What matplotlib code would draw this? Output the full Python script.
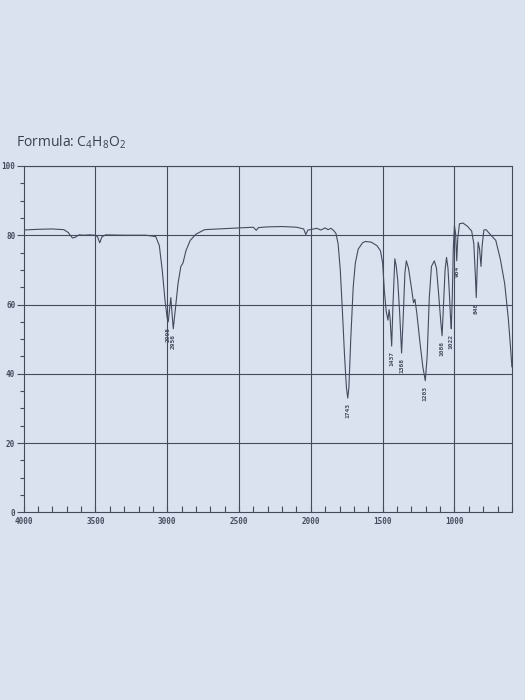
import matplotlib
matplotlib.use("Agg")
import matplotlib.pyplot as plt

plt.rcParams['mathtext.fontset'] = 'custom'
plt.rcParams['mathtext.rm'] = 'Open Sans'
plt.rcParams['mathtext.it'] = 'Open Sans'

# IR spectrum (wavenumber cm-1, %T)
wavenumber = [4000, 3900, 3800, 3720, 3690, 3660, 3640, 3615, 3580, 3540, 3500, 3485,
              3470, 3455, 3430, 3300, 3150, 3080, 3055, 3035, 3015, 3000, 2993, 2975,
              2958, 2945, 2925, 2905, 2890, 2870, 2840, 2800, 2740, 2650, 2550, 2400,
              2380, 2365, 2300, 2200, 2100, 2050, 2035, 2020, 2000, 1960, 1930, 1900,
              1880, 1860, 1840, 1825, 1810, 1795, 1780, 1765, 1752, 1743, 1735, 1722,
              1705, 1690, 1670, 1640, 1620, 1580, 1540, 1515, 1500, 1488, 1475, 1463,
              1455, 1448, 1437, 1428, 1415, 1405, 1395, 1382, 1368, 1358, 1345, 1335,
              1320, 1300, 1285, 1275, 1262, 1240, 1220, 1203, 1190, 1175, 1160, 1140,
              1125, 1110, 1095, 1086, 1078, 1065, 1055, 1045, 1035, 1027, 1022, 1015,
              1008, 1000, 992, 984, 977, 965, 940, 910, 880, 865, 855, 848, 842, 835,
              825, 815, 807, 795, 780, 750, 712, 680, 650, 625, 610, 600]
transmittance = [81.5, 81.7, 81.8, 81.6, 80.8, 79.2, 79.4, 80.1, 80.0, 80.1, 80.0, 79.5,
                 77.8, 79.5, 80.1, 80.0, 80.0, 79.6, 77.0, 70.0, 61.0, 56.0, 55.0, 62.0,
                 53.0, 58.0, 66.0, 71.0, 72.0, 75.5, 78.5, 80.3, 81.6, 81.8, 82.0, 82.3,
                 81.4, 82.2, 82.4, 82.5, 82.3, 81.8, 80.2, 81.5, 81.6, 82.0, 81.5, 82.1,
                 81.6, 82.0, 81.3, 80.5, 77.5, 70.0, 58.0, 45.0, 36.0, 33.0, 36.0, 50.0,
                 65.0, 72.0, 76.0, 77.8, 78.2, 78.0, 77.0, 75.5, 72.0, 64.0, 58.0, 55.5,
                 58.5, 56.0, 48.0, 60.0, 73.2, 71.0, 67.0, 58.0, 46.0, 55.0, 69.0, 72.6,
                 70.5, 65.0, 60.5, 61.5, 57.5, 49.0, 42.0, 38.0, 45.0, 62.0, 71.0, 72.6,
                 70.5, 63.0, 55.0, 51.0, 58.0, 70.0, 73.6, 70.5, 63.0, 56.0, 53.0, 62.0,
                 76.0, 82.8, 80.5, 72.6, 79.0, 83.3, 83.5, 82.6, 81.2, 77.5, 69.0, 62.0,
                 70.0, 78.0, 76.0, 71.0, 77.0, 81.5, 81.6, 80.2, 78.5, 73.0, 66.0, 56.0,
                 48.0, 42.0]

peak_labels = ["2995", "2956", "1743", "1437", "1368", "1203", "1086", "1022", "984", "848"]
peak_positions = [2993, 2958, 1743, 1437, 1368, 1203, 1086, 1022, 984, 848]
peak_values = [55.0, 53.0, 33.0, 48.0, 46.0, 38.0, 51.0, 53.0, 72.6, 62.0]

x_major = [4000, 3500, 3000, 2500, 2000, 1500, 1000]
y_major = [0, 20, 40, 60, 80, 100]

bg = "#dae2f0"
ink = "#454b5c"

fig = plt.figure(figsize=(5.25, 7.0), dpi=100, facecolor=bg)
ax = fig.add_axes([0.045, 0.268, 0.93, 0.495], facecolor=bg)

ax.plot(wavenumber, transmittance, color=ink, lw=0.8)

ax.set_xlim(4000, 600)
ax.set_ylim(0, 100)

for x in x_major[1:]:
    ax.axvline(x, color=ink, lw=0.8)
for y in y_major[1:]:
    ax.axhline(y, color=ink, lw=0.8)

for s in ax.spines.values():
    s.set_color(ink)
    s.set_linewidth(0.8)

mono = dict(family="DejaVu Sans Mono", weight="bold", size=5.5)

ax.set_xticks(x_major)
ax.set_xticklabels([str(v) for v in x_major], fontdict=mono, color=ink)
ax.set_xticks(list(range(3900, 599, -100)), minor=True)
ax.set_yticks(y_major)
ax.set_yticklabels([str(v) for v in y_major], fontdict=mono, color=ink)
ax.set_yticks(list(range(5, 100, 5)), minor=True)
ax.tick_params(axis='x', which='both', direction='in', length=4, color=ink, width=0.8, pad=3)
ax.tick_params(axis='y', which='major', direction='out', length=5, color=ink, width=0.8, pad=1)
ax.tick_params(axis='y', which='minor', direction='out', length=3, color=ink, width=0.8)

for lab, pos, val in zip(peak_labels, peak_positions, peak_values):
    ax.text(pos, val - 1.5, lab, rotation=90, ha='center', va='top',
            family="DejaVu Sans Mono", weight="bold", size=4.5, color=ink)

fig.text(0.03, 0.79, "Formula: C$_4$H$_8$O$_2$", family="Open Sans",
         size=10, color="#3a3f4d", ha='left', va='baseline')

fig.savefig("out.png", dpi=100, facecolor=bg)
